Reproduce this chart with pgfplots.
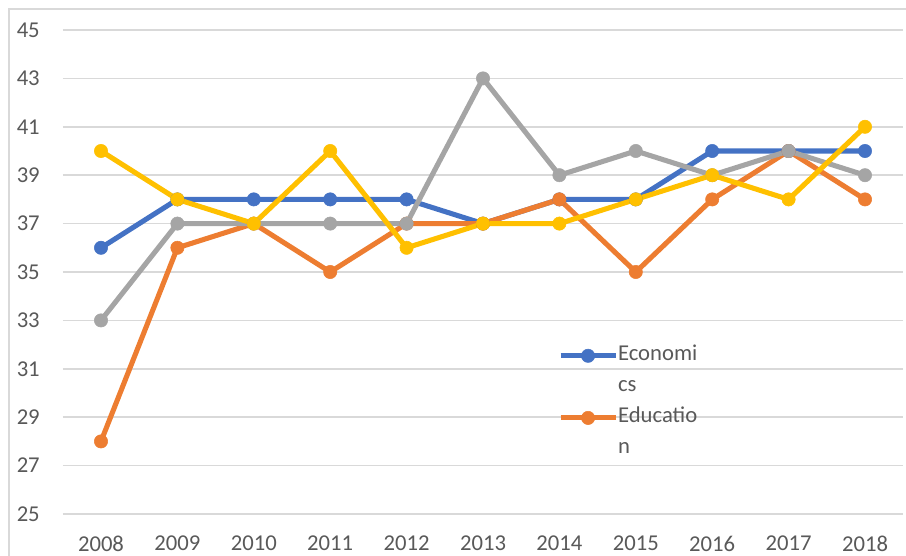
\documentclass[border=0pt]{standalone}
\usepackage{pgfplots}
\pgfplotsset{compat=1.18}
\usepackage{fontspec}
\setmainfont{Carlito}

\definecolor{ecoblue}{HTML}{4472C4}
\definecolor{eduorange}{HTML}{ED7D31}
\definecolor{s3gray}{HTML}{A5A5A5}
\definecolor{s4yellow}{HTML}{FFC000}
\definecolor{gridgray}{HTML}{D9D9D9}
\definecolor{textgray}{HTML}{595959}

\begin{document}
\fontsize{17}{21}\selectfont
\begin{tikzpicture}
\useasboundingbox (0,0) rectangle (679.5pt,417pt);
% chart frame (only top and left edges are in the crop)
\draw[gridgray, line width=1.1pt] (6.75pt,0pt) -- (6.75pt,410.25pt) -- (679.5pt,410.25pt);
\begin{axis}[
    at={(47.1pt,31.5pt)}, anchor=south west,
    scale only axis,
    width=630.3pt, height=363pt,
    xmin=-0.5, xmax=10.5,
    ymin=25, ymax=45,
    xtick={0,1,2,3,4,5,6,7,8,9,10},
    xticklabels={2008,2009,2010,2011,2012,2013,2014,2015,2016,2017,2018},
    ytick={25,27,29,31,33,35,37,39,41,43,45},
    /pgf/number format/assume math mode=true,
    axis line style={draw=none},
    major tick length=0pt,
    ymajorgrids,
    grid style={gridgray, line width=1.1pt},
    tick label style={text=textgray, font=\fontsize{17}{21}\selectfont},
    xticklabel style={anchor=north, inner sep=0pt, yshift=-16.5pt},
    yticklabel style={anchor=east, inner sep=0pt, xshift=-17.1pt},
    clip=false,
    every axis plot/.append style={line width=3.8pt, mark=*, mark size=5pt,
        mark options={solid, line width=0.4pt}},
    legend style={at={(0.589,0.3595)}, anchor=north west, draw=none, fill=none,
        inner sep=0pt, row sep=0pt, column sep=0pt,
        nodes={inner sep=0pt, text height=15pt, text depth=8.3pt,
               text=textgray, font=\fontsize{17}{21}\selectfont}},
    legend cell align=left,
    legend image code/.code={\draw[mark repeat=2, mark phase=2, #1]
        plot coordinates {(0pt,0pt) (20.6pt,0pt) (41.2pt,0pt)};},
]
% Economics
\addplot[ecoblue] coordinates {
  (0,36) (1,38) (2,38) (3,38) (4,38) (5,37) (6,38) (7,38) (8,40) (9,40) (10,40)
};
\addlegendentry{Economi}
\addlegendimage{empty legend}
\addlegendentry{cs}
% Education
\addplot[eduorange] coordinates {
  (0,28) (1,36) (2,37) (3,35) (4,37) (5,37) (6,38) (7,35) (8,38) (9,40) (10,38)
};
\addlegendentry{Educatio}
\addlegendimage{empty legend}
\addlegendentry{n}
% third series
\addplot[s3gray, forget plot] coordinates {
  (0,33) (1,37) (2,37) (3,37) (4,37) (5,43) (6,39) (7,40) (8,39) (9,40) (10,39)
};
% fourth series
\addplot[s4yellow, forget plot] coordinates {
  (0,40) (1,38) (2,37) (3,40) (4,36) (5,37) (6,37) (7,38) (8,39) (9,38) (10,41)
};
\end{axis}
\end{tikzpicture}
\end{document}
